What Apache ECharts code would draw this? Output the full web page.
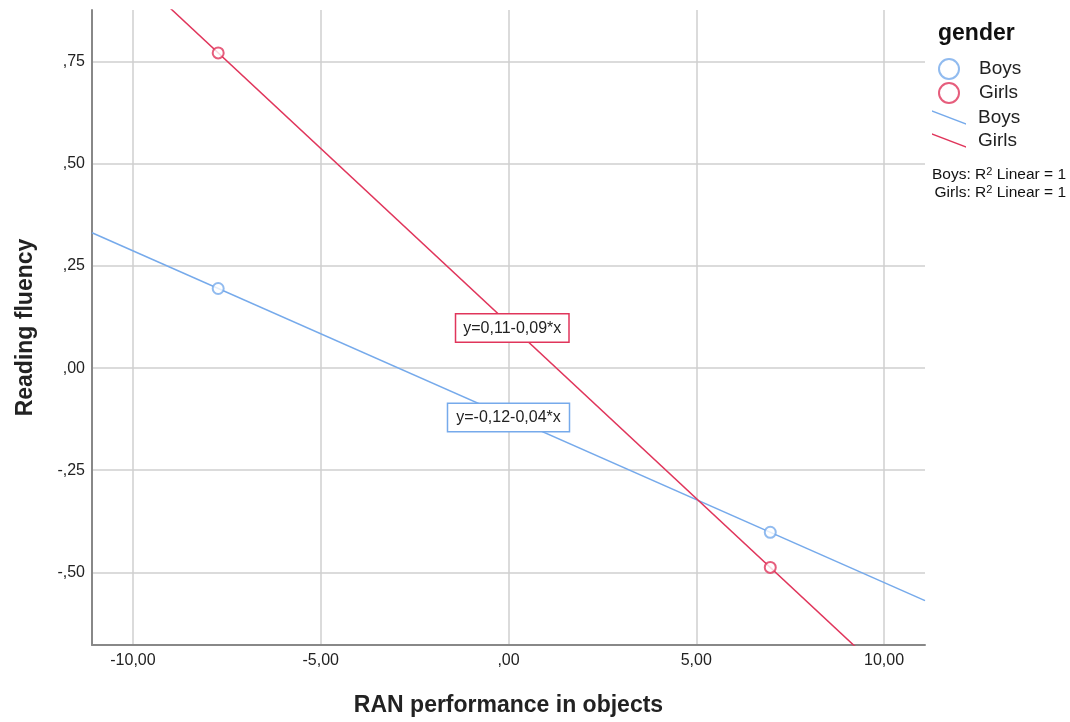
<!DOCTYPE html>
<html><head><meta charset="utf-8">
<script src="https://cdn.jsdelivr.net/npm/echarts@6/dist/echarts.min.js"></script>
<style>html,body{margin:0;padding:0;background:#fff;overflow:hidden}#c{width:1070px;height:722px}</style>
</head><body><div id="c"></div>
<script>
// Data
const boysX = [-7.73, 6.97];
const boysY = [0.195, -0.402];
const girlsX = [-7.73, 6.97];
const girlsY = [0.772, -0.488];
const xTicks = [-10, -5, 0, 5, 10];
const yTicks = [-0.5, -0.25, 0, 0.25, 0.5, 0.75];
const xRange = [-11.09, 11.09];
const yRange = [-0.678, 0.877];
const boysEq = 'y=-0,12-0,04*x';
const girlsEq = 'y=0,11-0,09*x';
const boysEqPos = [0.0, -0.121];
const girlsEqPos = [0.1, 0.098];

const BLUE = '#76aaeb';
const RED = '#e0355b';

function fit(xs, ys) {
  const n = xs.length;
  const mx = xs.reduce((a, b) => a + b, 0) / n;
  const my = ys.reduce((a, b) => a + b, 0) / n;
  let sxy = 0, sxx = 0;
  for (let i = 0; i < n; i++) { sxy += (xs[i] - mx) * (ys[i] - my); sxx += (xs[i] - mx) ** 2; }
  const b = sxy / sxx, a = my - b * mx;
  return xRange.map(x => [x, a + b * x]);
}
function fmt(v) {
  let s = Number(v).toFixed(2).replace('.', ',');
  s = s.replace(/^(-?)0,/, '$1,');
  return s;
}
const chart = echarts.init(document.getElementById('c'));
const ff = '"Liberation Sans", Arial, sans-serif';
chart.setOption({
  backgroundColor: '#fff',
  animation: false,
  textStyle: { fontFamily: ff },
  grid: { left: 92, right: 145, top: 10, bottom: 75, containLabel: false },
  xAxis: {
    type: 'value', min: xRange[0], max: xRange[1],
    name: 'RAN performance in objects', nameLocation: 'middle', nameGap: 49,
    nameTextStyle: { fontSize: 23, fontWeight: 'bold', color: '#222', fontFamily: ff },
    axisLine: { show: true, onZero: false, lineStyle: { color: '#888', width: 2 } },
    axisTick: { show: false, customValues: xTicks },
    axisLabel: { customValues: xTicks, formatter: fmt, fontSize: 16, color: '#222', margin: 8 },
    splitLine: { show: true, lineStyle: { color: '#cfcfcf', width: 1.5 } }
  },
  yAxis: {
    type: 'value', min: yRange[0], max: yRange[1],
    name: 'Reading fluency', nameLocation: 'middle', nameGap: 55, nameRotate: 90,
    nameTextStyle: { fontSize: 23, fontWeight: 'bold', color: '#222', fontFamily: ff },
    axisLine: { show: true, onZero: false, lineStyle: { color: '#888', width: 2 } },
    axisTick: { show: false, customValues: yTicks },
    axisLabel: { customValues: yTicks, formatter: fmt, fontSize: 16, color: '#222', margin: 7 },
    splitLine: { show: true, lineStyle: { color: '#cfcfcf', width: 1.5 } }
  },
  legend: [{
    orient: 'vertical', left: 933, top: 53, itemWidth: 20, itemHeight: 20, itemGap: 2,
    data: [
      { name: 'Boys', icon: 'emptyCircle' },
      { name: 'Girls', icon: 'emptyCircle' }
    ],
    textStyle: { fontSize: 19, color: '#222', padding: [0, 0, 0, 15] },
    selectedMode: false
  }, {
    orient: 'vertical', left: 927, top: 103, itemWidth: 34, itemHeight: 16, itemGap: 4,
    data: [
      { name: 'Boys ', icon: 'path://M0,0L34,13L34,14.5L0,1.5Z' },
      { name: 'Girls ', icon: 'path://M0,0L34,13L34,14.5L0,1.5Z' }
    ],
    formatter: n => n.trim(),
    textStyle: { fontSize: 19, color: '#222', padding: [0, 0, 0, 7] },
    selectedMode: false
  }],
  graphic: [
    { type: 'text', left: 938, top: 22, style: { text: 'gender', font: 'bold 23px ' + ff, fill: '#111' } },
    { type: 'text', right: 4, top: 166, style: {
        text: 'Boys: R{s|2} Linear = 1', font: '15.5px ' + ff, fill: '#111',
        rich: { s: { fontSize: 11, verticalAlign: 'top', padding: [0, 0, 7, 0] } } } },
    { type: 'text', right: 4, top: 184, style: {
        text: 'Girls: R{s|2} Linear = 1', font: '15.5px ' + ff, fill: '#111',
        rich: { s: { fontSize: 11, verticalAlign: 'top', padding: [0, 0, 7, 0] } } } }
  ],
  series: [
    {
      name: 'Boys ', type: 'line', data: fit(boysX, boysY), showSymbol: false, clip: true,
      lineStyle: { color: BLUE, width: 1.5 }, itemStyle: { color: BLUE }, z: 2,
      markPoint: { symbol: 'rect', symbolSize: 1, itemStyle: { color: 'transparent' },
        data: [{ coord: boysEqPos, label: { show: true, position: 'inside', formatter: boysEq,
          fontSize: 16, color: '#222', backgroundColor: '#fff', borderColor: BLUE, borderWidth: 1.5,
          padding: [6, 8, 5, 8] } }] }
    },
    {
      name: 'Girls ', type: 'line', data: fit(girlsX, girlsY), showSymbol: false, clip: true,
      lineStyle: { color: RED, width: 1.5 }, itemStyle: { color: RED }, z: 2,
      markPoint: { symbol: 'rect', symbolSize: 1, itemStyle: { color: 'transparent' },
        data: [{ coord: girlsEqPos, label: { show: true, position: 'inside', formatter: girlsEq,
          fontSize: 16, color: '#222', backgroundColor: '#fff', borderColor: RED, borderWidth: 1.5,
          padding: [6, 7, 5, 7] } }] }
    },
    {
      name: 'Boys', type: 'scatter', symbol: 'emptyCircle', symbolSize: 11,
      data: boysX.map((x, i) => [x, boysY[i]]),
      itemStyle: { color: BLUE, borderColor: BLUE, borderWidth: 1.5 }, z: 3
    },
    {
      name: 'Girls', type: 'scatter', symbol: 'emptyCircle', symbolSize: 11,
      data: girlsX.map((x, i) => [x, girlsY[i]]),
      itemStyle: { color: RED, borderColor: RED, borderWidth: 1.5 }, z: 3
    }
  ]
});
</script></body></html>
